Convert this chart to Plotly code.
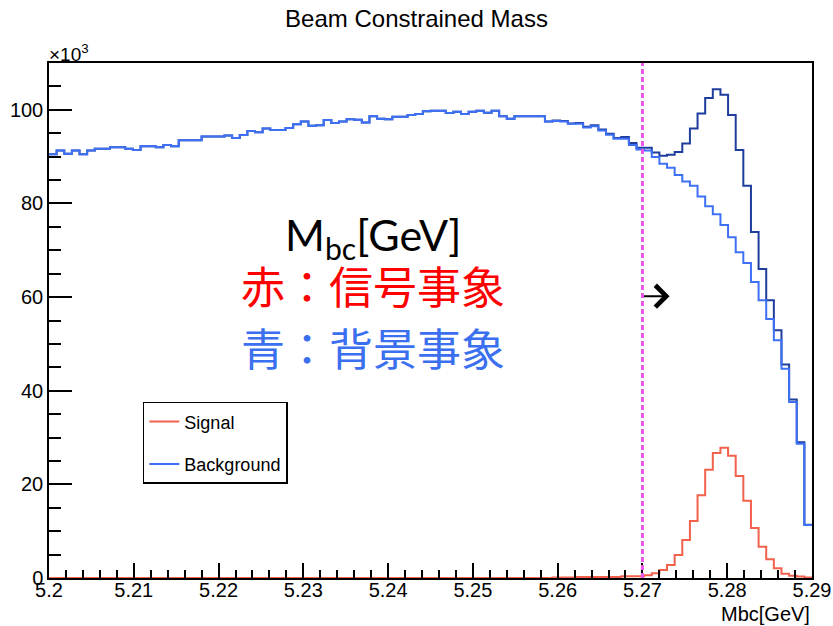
import numpy as np
import plotly.graph_objects as go

# ---------------------------------------------------------------
# data (events per bin, in units of 10^3), 100 bins 5.20-5.29 GeV
# ---------------------------------------------------------------
x_lo, x_hi, n_bins = 5.2, 5.29, 100

background = [
    90.5, 91.3, 90.6, 91.3, 90.5, 91.3, 91.7, 91.7, 92.0, 92.0,
    91.7, 91.4, 92.2, 92.2, 92.0, 92.5, 92.2, 93.5, 93.5, 93.5,
    94.3, 94.3, 94.3, 94.5, 94.0, 94.6, 95.5, 95.2, 96.0, 95.7,
    95.7, 96.1, 96.9, 97.5, 96.6, 96.7, 97.8, 97.2, 97.5, 98.0,
    97.9, 97.3, 98.6, 98.1, 98.0, 98.5, 98.5, 98.9, 99.1, 99.7,
    99.8, 99.8, 99.3, 99.6, 99.1, 99.6, 99.8, 99.4, 99.8, 98.6,
    98.1, 98.6, 98.6, 98.6, 98.6, 97.5, 97.6, 97.5, 97.0, 97.0,
    96.2, 96.5, 95.6, 94.7, 93.8, 93.8, 92.5, 91.5, 91.3, 89.9,
    88.5, 87.6, 86.1, 84.7, 83.8, 81.5, 79.4, 77.7, 75.4, 72.8,
    69.6, 67.3, 63.2, 59.3, 55.3, 50.8, 44.7, 37.6, 28.7, 11.3,
]

signal = [
    0.0, 0.0, 0.0, 0.0, 0.0, 0.0, 0.0, 0.0, 0.0, 0.0,
    0.0, 0.0, 0.0, 0.0, 0.0, 0.0, 0.0, 0.0, 0.0, 0.0,
    0.0, 0.0, 0.0, 0.0, 0.0, 0.0, 0.0, 0.0, 0.0, 0.0,
    0.0, 0.0, 0.0, 0.0, 0.0, 0.0, 0.0, 0.0, 0.0, 0.0,
    0.0, 0.0, 0.0, 0.0, 0.0, 0.0, 0.0, 0.0, 0.0, 0.0,
    0.0, 0.0, 0.0, 0.0, 0.0, 0.0, 0.0, 0.0, 0.0, 0.0,
    0.0, 0.0, 0.0, 0.0, 0.0, 0.0, 0.1, 0.1, 0.1, 0.2,
    0.2, 0.2, 0.2, 0.2, 0.2, 0.4, 0.4, 0.4, 0.6, 1.0,
    1.7, 2.8, 4.9, 8.1, 12.2, 17.7, 23.1, 26.7, 27.8, 26.1,
    21.8, 16.5, 10.7, 6.7, 4.0, 2.1, 0.9, 0.5, 0.3, 0.1,
]

x_ticks = [5.2, 5.21, 5.22, 5.23, 5.24, 5.25, 5.26, 5.27, 5.28, 5.29]
x_ticklabels = ["5.2", "5.21", "5.22", "5.23", "5.24", "5.25", "5.26", "5.27", "5.28", "5.29"]
y_ticks = [0, 20, 40, 60, 80, 100]

cut_value = 5.27

# ---------------------------------------------------------------
edges = np.linspace(x_lo, x_hi, n_bins + 1)
bkg = np.array(background)
sig = np.array(signal)
total = bkg + sig


def step_y(v):
    return list(v) + [v[-1]]


BLUE = "#3d70f5"
NAVY = "#1f3d9c"
RED = "#f2614c"

fig = go.Figure()

# signal + background (stacked) first, background drawn over it
fig.add_trace(go.Scatter(
    x=edges, y=step_y(total), mode="lines", line_shape="hv",
    line=dict(color=NAVY, width=2), showlegend=False,
))
fig.add_trace(go.Scatter(
    x=edges, y=step_y(bkg), mode="lines", line_shape="hv",
    line=dict(color=BLUE, width=2), name="Background",
    legendgroup="b", legendrank=2,
))
fig.add_trace(go.Scatter(
    x=edges, y=step_y(sig), mode="lines", line_shape="hv",
    line=dict(color=RED, width=2), name="Signal",
    legendgroup="s", legendrank=1,
))

# cut line
fig.add_shape(type="line", xref="x", yref="y", x0=cut_value, x1=cut_value, y0=0, y1=110,
              line=dict(color="#e957e9", width=3, dash="5px,3px"))

fig.add_annotation(x=5.2732, y=60.2, ax=cut_value, ay=60.2, axref="x", ayref="y",
                   xref="x", yref="y", showarrow=True, arrowhead=4, arrowsize=2.1,
                   arrowwidth=2, arrowcolor="black", text="")

# explanatory text
fig.add_annotation(x=0.425, y=0.72, xref="paper", yref="paper", showarrow=False,
                   text="M<sub>bc</sub>[GeV]", font=dict(family="Lato", size=43, color="black"))
fig.add_annotation(x=0.425, y=0.568, xref="paper", yref="paper", showarrow=False,
                   text="赤：信号事象", font=dict(family="Noto Sans CJK JP", size=44, color="#ff0000"))
fig.add_annotation(x=0.425, y=0.449, xref="paper", yref="paper", showarrow=False,
                   text="青：背景事象", font=dict(family="Noto Sans CJK JP", size=44, color="#3a6ff0"))

# x10^3 label and axis title
fig.add_annotation(x=-0.002, y=1, xref="paper", yref="paper", xanchor="left", yanchor="bottom",
                   showarrow=False, text="×10<sup>3</sup>", yshift=-4,
                   font=dict(family="Liberation Sans", size=19, color="black"))
fig.add_annotation(x=1, y=-0.07, xref="paper", yref="paper", xanchor="right", yanchor="middle",
                   showarrow=False, text="Mbc[GeV]",
                   font=dict(family="Liberation Sans", size=20, color="black"))

fig.update_layout(
    width=833, height=626,
    margin=dict(l=49, r=21, t=63, b=48),
    paper_bgcolor="white", plot_bgcolor="white",
    font=dict(family="Liberation Sans", size=20, color="black"),
    title=dict(text="Beam Constrained Mass", x=0.5, xanchor="center", y=0.971, yanchor="middle",
               font=dict(size=24)),
    legend=dict(x=0.123, y=0.342, xanchor="left", yanchor="top",
                bordercolor="black", borderwidth=1.5, bgcolor="white",
                font=dict(size=18), itemwidth=30, traceorder="grouped",
                tracegroupgap=16),
)

fig.update_xaxes(
    range=[x_lo, x_hi], tickvals=x_ticks, ticktext=x_ticklabels, automargin=False,
    ticks="inside", ticklen=15, tickwidth=1.5, tickcolor="black", ticklabelstandoff=-7,
    ticklabeloverflow="allow",
    minor=dict(ticks="inside", dtick=0.002, tick0=x_lo, ticklen=8, tickwidth=1.5, tickcolor="black"),
    showline=True, linecolor="black", linewidth=1.5, mirror=True,
    showgrid=False, zeroline=False,
)
fig.update_yaxes(
    range=[0, 110], tickvals=y_ticks, automargin=False,
    ticks="inside", ticklen=23, tickwidth=1.5, tickcolor="black",
    minor=dict(ticks="inside", dtick=5, ticklen=12, tickwidth=1.5, tickcolor="black"),
    showline=True, linecolor="black", linewidth=1.5, mirror=True,
    showgrid=False, zeroline=False,
)

# drop the default page margin so the figure fills the window exactly
fig.write_html("out.html", config={"displayModeBar": False},
               post_script="document.body.style.margin='0';document.body.style.overflow='hidden';")
